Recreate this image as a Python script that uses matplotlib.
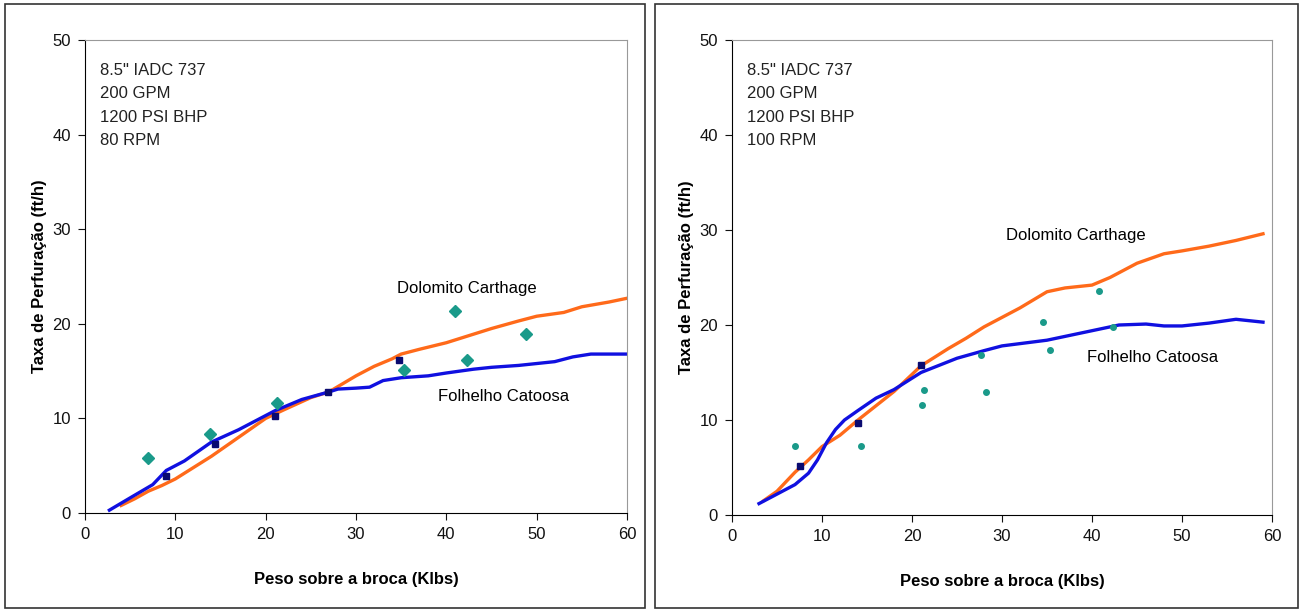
import matplotlib
matplotlib.use('Agg')
import matplotlib.pyplot as plt
from matplotlib.patches import Rectangle

plt.rcParams['font.family'] = ['Liberation Sans', 'DejaVu Sans']

# painel esquerdo - 80 RPM
dol80_x = [4, 5.5, 7, 8.5, 10, 12, 14, 17, 20, 22, 25, 27, 30, 32, 34, 35, 37, 40, 43, 45, 48, 50, 53, 55, 58, 60]
dol80_y = [0.8, 1.5, 2.3, 2.9, 3.6, 4.8, 6.0, 8.0, 10.0, 10.9, 12.2, 12.8, 14.5, 15.5, 16.3, 16.8, 17.3, 18.0, 18.9, 19.5, 20.3, 20.8, 21.2, 21.8, 22.3, 22.7]
fol80_x = [2.7, 5, 7.5, 8.3, 9, 10, 11, 14, 17, 19, 21, 24, 27, 28, 30, 31.5, 33, 35, 38, 40, 43, 45, 48, 50, 52, 54, 56, 60]
fol80_y = [0.3, 1.6, 3.0, 3.8, 4.5, 5.0, 5.5, 7.5, 8.8, 9.8, 10.8, 12.0, 12.8, 13.1, 13.2, 13.3, 14.0, 14.3, 14.5, 14.8, 15.2, 15.4, 15.6, 15.8, 16.0, 16.5, 16.8, 16.8]
dia80_x = [7, 13.8, 21.3, 35.3, 41, 42.3, 48.8]
dia80_y = [5.8, 8.4, 11.6, 15.1, 21.4, 16.2, 18.9]
sq80_x = [9, 14.4, 21, 26.9, 34.8]
sq80_y = [3.9, 7.3, 10.3, 12.8, 16.2]

# painel direito - 100 RPM
dol100_x = [3.5, 5, 7, 8.5, 10, 12, 14, 16, 18, 21, 24, 26, 28, 30, 32, 35, 37, 40, 42, 45, 48, 50, 53, 56, 59]
dol100_y = [1.5, 2.5, 4.5, 5.8, 7.2, 8.4, 10.0, 11.5, 13.0, 15.7, 17.5, 18.6, 19.8, 20.8, 21.8, 23.5, 23.9, 24.2, 25.0, 26.5, 27.5, 27.8, 28.3, 28.9, 29.6]
fol100_x = [3, 5, 7, 8.5, 9.5, 10.5, 11.5, 12.5, 14, 16, 18, 21, 25, 28, 30, 35, 40, 43, 46, 48, 50, 53, 56, 59]
fol100_y = [1.2, 2.2, 3.2, 4.4, 5.8, 7.6, 9.0, 10.0, 11.0, 12.3, 13.2, 15.0, 16.5, 17.3, 17.8, 18.4, 19.4, 20.0, 20.1, 19.9, 19.9, 20.2, 20.6, 20.3]
dot100_x = [7, 14.3, 21.1, 21.3, 27.7, 28.2, 34.6, 35.3, 40.8, 42.3]
dot100_y = [7.3, 7.3, 11.6, 13.2, 16.8, 13.0, 20.3, 17.4, 23.6, 19.8]
sq100_x = [7.6, 14, 21]
sq100_y = [5.2, 9.7, 15.8]

info80 = '8.5" IADC 737\n200 GPM\n1200 PSI BHP\n80 RPM'
info100 = '8.5" IADC 737\n200 GPM\n1200 PSI BHP\n100 RPM'

fig = plt.figure(figsize=(13.03, 6.12), dpi=100)

# molduras dos dois paineis
fig.patches.append(Rectangle((5/1303, 4/612), 640/1303, 604/612, transform=fig.transFigure,
                             fill=False, edgecolor='#333333', linewidth=1.2))
fig.patches.append(Rectangle((655/1303, 4/612), 643/1303, 604/612, transform=fig.transFigure,
                             fill=False, edgecolor='#333333', linewidth=1.2))

ax1 = fig.add_axes([85/1303, 1 - 513/612, 542/1303, 473/612])
ax2 = fig.add_axes([732/1303, 1 - 515/612, 540/1303, 475/612])


def estilo(ax, info):
    ax.set_xlim(0, 60)
    ax.set_ylim(0, 50)
    ax.set_xticks(range(0, 61, 10))
    ax.set_yticks(range(0, 51, 10))
    ax.spines['top'].set_color('#999999')
    ax.spines['right'].set_color('#999999')
    ax.tick_params(direction='out', length=5, labelsize=12, colors='#111111', pad=5)
    ax.set_xlabel('Peso sobre a broca (Klbs)', fontsize=12, fontweight='bold', labelpad=22)
    ax.set_ylabel('Taxa de Perfuração (ft/h)', fontsize=12, fontweight='bold', labelpad=4)
    ax.text(0.028, 0.952, info, transform=ax.transAxes, va='top', ha='left',
            fontsize=12, linespacing=1.7, color='#222222')


ax1.plot(dol80_x, dol80_y, color='#ff6a1a', linewidth=2.4)
ax1.plot(fol80_x, fol80_y, color='#1010e0', linewidth=2.4)
ax1.plot(dia80_x, dia80_y, 'D', color='#1a9a8a', markersize=6.5, linestyle='none')
ax1.plot(sq80_x, sq80_y, 's', color='#0a0a70', markersize=5, linestyle='none')
ax1.text(34.5, 23.7, 'Dolomito Carthage', fontsize=12, va='center')
ax1.text(39.1, 12.3, 'Folhelho Catoosa', fontsize=12, va='center')
estilo(ax1, info80)

ax2.plot(dol100_x, dol100_y, color='#ff6a1a', linewidth=2.4)
ax2.plot(fol100_x, fol100_y, color='#1010e0', linewidth=2.4)
ax2.plot(dot100_x, dot100_y, 'o', color='#1a9a8a', markersize=4, linestyle='none')
ax2.plot(sq100_x, sq100_y, 's', color='#0a0a70', markersize=5, linestyle='none')
ax2.text(30.4, 29.4, 'Dolomito Carthage', fontsize=12, va='center')
ax2.text(39.4, 16.6, 'Folhelho Catoosa', fontsize=12, va='center')
estilo(ax2, info100)

fig.savefig('out.png', dpi=100)
